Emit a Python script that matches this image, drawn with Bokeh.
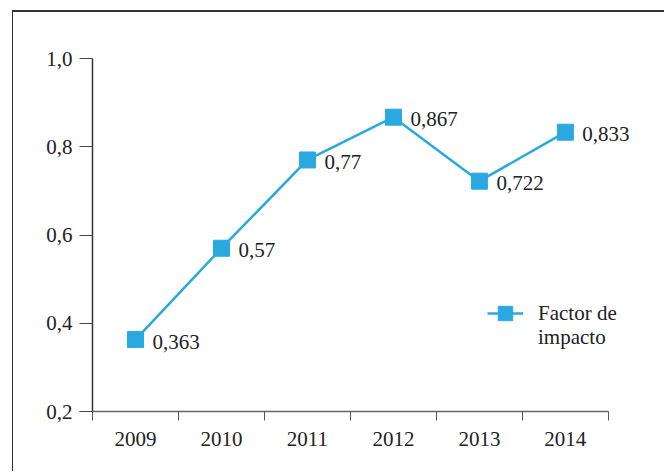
from bokeh.plotting import figure
from bokeh.models import ColumnDataSource, FixedTicker, Range1d, Legend, LegendItem, LabelSet
from bokeh.embed import file_html
from bokeh.resources import INLINE

years = [2009, 2010, 2011, 2012, 2013, 2014]
impact = [0.363, 0.57, 0.77, 0.867, 0.722, 0.833]
y_ticks = [0.2, 0.4, 0.6, 0.8, 1.0]
y_tick_labels = ["0,2", "0,4", "0,6", "0,8", "1,0"]
series_name = ["Factor de", "impacto"]

FONT = "Liberation Serif"
FS = "21px"
BLUE = "#29a9e0"

src = ColumnDataSource(dict(x=years, y=impact,
                            lab=[str(v).replace(".", ",") for v in impact]))

x0, x1 = years[0] - 0.5, years[-1] + 0.5
p = figure(width=652, height=461, output_backend="svg", toolbar_location=None,
           x_range=Range1d(x0, x1 + 0.56),
           y_range=Range1d(y_ticks[0], y_ticks[-1]),
           min_border_left=79, min_border_right=9, min_border_top=46, min_border_bottom=62)
p.styles = {"margin-left": "12px", "margin-top": "10px",
            "border-left": "1.5px solid #333", "border-top": "2px solid #333"}
p.outline_line_color = None
p.grid.visible = False

xa = p.xaxis[0]
xa.bounds = (x0, x1)
xa.ticker = FixedTicker(ticks=years, minor_ticks=[y - 0.5 for y in years] + [x1])
xa.major_label_overrides = {y: str(y) for y in years}
xa.major_tick_line_color = None
xa.minor_tick_in = 0
xa.minor_tick_out = 9
xa.minor_tick_line_color = "#555"
xa.axis_line_color = "#666"
xa.axis_line_width = 1.5
xa.major_label_text_font = FONT
xa.major_label_text_font_size = FS
xa.major_label_text_color = "#222"
xa.major_label_standoff = 11

ya = p.yaxis[0]
ya.ticker = FixedTicker(ticks=y_ticks)
ya.major_label_overrides = dict(zip(y_ticks, y_tick_labels))
ya.minor_tick_line_color = None
ya.major_tick_in = 0
ya.major_tick_out = 13
ya.major_tick_line_color = "#444"
ya.axis_line_color = "#333"
ya.axis_line_width = 1.5
ya.major_label_text_font = FONT
ya.major_label_text_font_size = FS
ya.major_label_text_color = "#222"
ya.major_label_standoff = 7

ln = p.line("x", "y", source=src, line_color=BLUE, line_width=2.5)
mk = p.scatter("x", "y", source=src, marker="square", size=16, fill_color=BLUE, line_color=BLUE)
dummy = p.line(x=[], y=[], line_alpha=0)

labels = LabelSet(x="x", y="y", text="lab", source=src, x_offset=17, y_offset=-2,
                  text_baseline="middle", text_font=FONT, text_font_size=FS,
                  text_color="#222")
p.add_layout(labels)

common = dict(border_line_color=None, background_fill_alpha=0, padding=0, margin=0,
              spacing=0, glyph_width=36, label_standoff=15,
              label_text_font=FONT, label_text_font_size=FS, label_text_color="#222")
legend1 = Legend(items=[LegendItem(label=series_name[0], renderers=[ln, mk])],
                 location=(395, 78), glyph_height=40, label_height=40, **common)
legend2 = Legend(items=[LegendItem(label=series_name[1], renderers=[dummy])],
                 location=(395, 61), glyph_height=25, label_height=25, **common)
p.add_layout(legend1)
p.add_layout(legend2)

open("out.html", "w").write(file_html(p, INLINE))
